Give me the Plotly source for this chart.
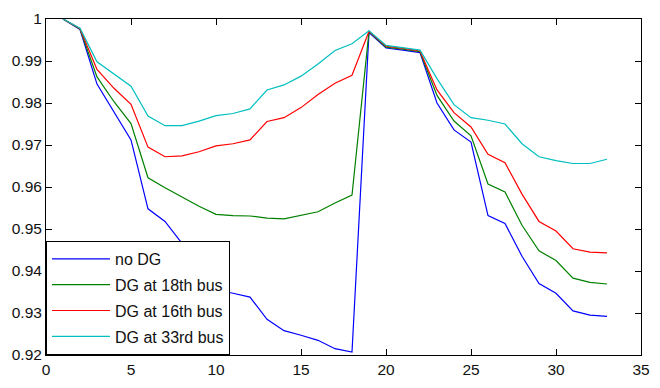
import plotly.graph_objects as go

bus = list(range(1, 34))

no_dg = [1.0, 0.9975, 0.9845, 0.9777, 0.9712, 0.9548, 0.9518, 0.9466, 0.9410, 0.9355,
         0.9347, 0.9338, 0.9285, 0.9258, 0.9247, 0.9235, 0.9215, 0.9207, 0.9968, 0.9931,
         0.9926, 0.9920, 0.9800, 0.9736, 0.9707, 0.9532, 0.9513, 0.9435, 0.9370, 0.9347,
         0.9305, 0.9295, 0.9292]

dg_18 = [1.0, 0.9976, 0.9862, 0.9803, 0.9751, 0.9622, 0.9598, 0.9575, 0.9554, 0.9535,
         0.9532, 0.9531, 0.9526, 0.9524, 0.9532, 0.9541, 0.9562, 0.9581, 0.9970, 0.9933,
         0.9928, 0.9922, 0.9818, 0.9757, 0.9722, 0.9607, 0.9588, 0.9509, 0.9448, 0.9425,
         0.9383, 0.9373, 0.9369]

dg_16 = [1.0, 0.9977, 0.9880, 0.9835, 0.9797, 0.9695, 0.9672, 0.9674, 0.9684, 0.9698,
         0.9703, 0.9712, 0.9756, 0.9765, 0.9789, 0.9820, 0.9847, 0.9866, 0.9971, 0.9935,
         0.9930, 0.9924, 0.9831, 0.9777, 0.9743, 0.9678, 0.9658, 0.9583, 0.9518, 0.9495,
         0.9453, 0.9445, 0.9443]

dg_33 = [1.0, 0.9978, 0.9898, 0.9868, 0.9840, 0.9769, 0.9746, 0.9746, 0.9757, 0.9770,
         0.9775, 0.9786, 0.9831, 0.9843, 0.9864, 0.9893, 0.9925, 0.9941, 0.9972, 0.9937,
         0.9932, 0.9926, 0.9858, 0.9796, 0.9765, 0.9759, 0.9750, 0.9703, 0.9672, 0.9663,
         0.9656, 0.9656, 0.9666]

names = ["no DG", "DG at 18th bus", "DG at 16th bus", "DG at 33rd bus"]
colors = ["#0000FF", "#008000", "#FF0000", "#00BFBF"]
series = [no_dg, dg_18, dg_16, dg_33]

x_ticks = [0, 5, 10, 15, 20, 25, 30, 35]
y_ticks = [0.92, 0.93, 0.94, 0.95, 0.96, 0.97, 0.98, 0.99, 1.0]
y_labels = ["0.92", "0.93", "0.94", "0.95", "0.96", "0.97", "0.98", "0.99", "1"]

fig = go.Figure()
for i, (nm, col, ys) in enumerate(zip(names, colors, series)):
    fig.add_trace(go.Scatter(x=bus, y=ys, mode="lines", name=nm,
                             line=dict(color=col, width=1.2),
                             legendgroup=str(i)))

axis_common = dict(showline=True, linecolor="black", linewidth=1, mirror="allticks",
                   ticks="inside", ticklen=6, tickcolor="black", showgrid=False,
                   zeroline=False, tickfont=dict(family="Liberation Sans, Arial", size=15.5, color="#111"))

fig.update_xaxes(range=[0, 35], tickvals=x_ticks, **axis_common)
fig.update_yaxes(range=[0.92, 1.0], tickvals=y_ticks, ticktext=y_labels, **axis_common)

fig.update_layout(
    width=660, height=388,
    margin=dict(l=46, r=10, t=13, b=32),
    paper_bgcolor="white", plot_bgcolor="white",
    showlegend=True,
    legend=dict(x=0, y=0, xanchor="left", yanchor="bottom",
                bgcolor="white", bordercolor="black", borderwidth=1,
                font=dict(family="Liberation Sans, Arial", size=16, color="#111"),
                tracegroupgap=2, itemwidth=58),
)

fig.write_html("out.html")
